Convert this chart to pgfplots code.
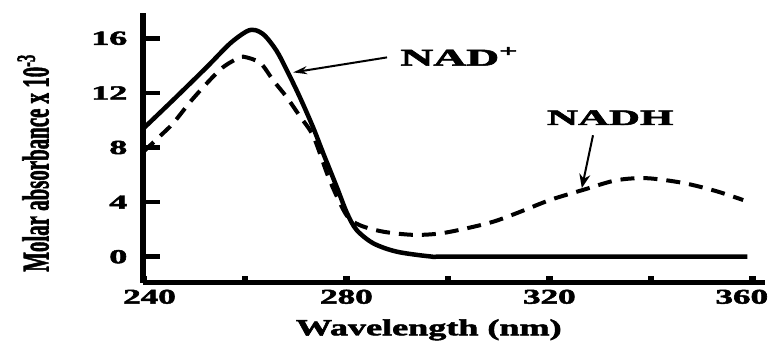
\documentclass[border=0pt]{standalone}
\usepackage{fontspec}
\setmainfont{Liberation Serif}[BoldFeatures={FakeBold=2}]
\usepackage{graphicx}
\usepackage{pgfplots}
\pgfplotsset{compat=1.18}
\usetikzlibrary{arrows.meta}

% wide, heavy lettering used throughout the figure
\newcommand{\xs}[1]{\scalebox{1.67}[1]{\fontsize{21}{21}\selectfont\bfseries #1}}
\newcommand{\ys}[1]{\scalebox{1.8}[1]{\fontsize{20}{20}\selectfont\bfseries #1}}

\begin{document}
\begin{tikzpicture}
\useasboundingbox (-143.5pt,-58.5pt) rectangle (631.5pt,282.5pt);
\begin{axis}[
  scale only axis,
  width=621.5pt, height=269.2pt,
  xmin=240, xmax=362.5,
  ymin=-1.89, ymax=17.83,
  axis lines*=left,
  x axis line style={line width=4.5pt, black},
  y axis line style={line width=6pt, black},
  tick align=inside,
  xtick={240,260,...,360},
  xticklabels={\hspace*{12pt}\xs{240},,\xs{280},,\xs{320},,\xs{360}\hspace*{21pt}},
  ytick={0,4,8,12,16},
  yticklabels={\ys{0},\ys{4},\ys{8},\ys{12},\ys{16}},
  xtick style={black, line width=6.5pt, /pgfplots/major tick length=7pt},
  ytick style={black, line width=4.5pt, /pgfplots/major tick length=16.5pt},
  xticklabel style={inner sep=0pt, yshift=-7pt},
  yticklabel style={inner sep=0pt, xshift=-16pt},
  xlabel={\scalebox{1.57}[1]{\fontsize{23}{23}\selectfont\bfseries Wavelength (nm)}},
  xlabel style={at={(axis description cs:0.459,-0.196)}, anchor=base},
  ylabel={\scalebox{1}[1.8]{\fontsize{20.9}{21}\selectfont\bfseries Molar absorbance x 10\textsuperscript{-3}}},
  ylabel style={at={(axis description cs:-0.153,0.444)}, anchor=base, rotate=0},
  clip=false,
]
% NAD+ (oxidised form)
\addplot[black, line width=4.5pt, smooth, tension=0.5] coordinates {
  (240,9.4) (245.9,11.5) (252.5,13.9) (257,15.6) (260.3,16.5) (262,16.6)
  (263.9,16.2) (266.2,15.1) (268.2,13.7) (270.8,11.7) (273.4,9.5)
  (275.4,7.6) (278.1,5.1) (280.1,3.2) (282,1.96) (285.3,0.98) (289.9,0.37)
  (296.5,0.02) (300,0) (330,0) (359,0)
};
% NADH (reduced form)
\addplot[black, line width=4pt, dash pattern=on 14pt off 9pt, smooth, tension=0.5] coordinates {
  (240,7.7) (243.3,8.85) (245.9,9.8) (249.8,11.6) (255.1,13.7) (258.4,14.5)
  (259.7,14.65) (263,14.2) (265.6,12.9) (268.2,11.7) (270.8,10.3)
  (273.5,8.8) (276.7,5.6) (280,3.05) (282.7,2.3) (287.3,1.83) (293.2,1.6)
  (298.4,1.7) (303.7,2.08) (308.9,2.56) (313.5,3.18) (320.1,4.15)
  (326.7,4.9) (333.2,5.6) (339.2,5.75) (346.4,5.4) (352.9,4.8) (358.2,4.15)
};
% curve labels with pointers
\draw[line width=2pt, -{Stealth[length=14pt,width=8pt]}] (axis cs:288,14.6) -- (axis cs:269.5,13.5);
\node[anchor=base west, inner sep=0pt] at (axis cs:290.6,14.0)
  {\scalebox{1.9}[1]{\fontsize{24}{24}\selectfont\bfseries NAD\textsuperscript{+}}};
\draw[line width=2pt, -{Stealth[length=14pt,width=11pt]}] (axis cs:328.6,8.9) -- (axis cs:326.4,5.03);
\node[anchor=base west, inner sep=0pt] at (axis cs:319.5,9.65)
  {\scalebox{1.95}[1]{\fontsize{22}{22}\selectfont\bfseries NADH}};
\end{axis}
\end{tikzpicture}
\end{document}
